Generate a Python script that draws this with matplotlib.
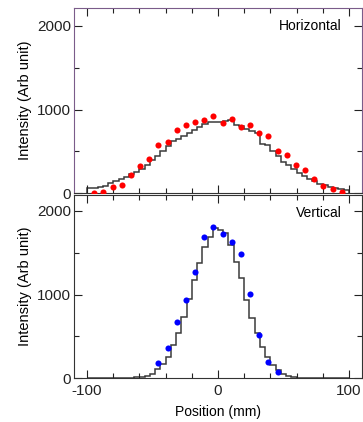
import numpy as np
import matplotlib
matplotlib.use("Agg")
import matplotlib.pyplot as plt
from matplotlib.ticker import MultipleLocator

plt.rcParams['font.family'] = ['Liberation Sans', 'DejaVu Sans']

# ---------------- data ----------------
bin_edges = list(range(-100, 101, 4))

# Horizontal profile: simulated histogram (50 bins of 4 mm)
horiz_hist = [60, 62, 75, 92, 118, 142, 168, 195, 225, 258,
              295, 335, 395, 445, 505, 570, 625, 655, 688, 718,
              755, 795, 828, 850, 848,
              857, 860, 878, 822, 800, 772, 745, 715, 590, 575,
              500, 448, 380, 338, 295, 240, 205, 172, 143, 115,
              95, 77, 63, 52, 43]
horiz_pos = [-94.5, -87.5, -80.5, -73.5, -66.5, -59.5, -52.5, -45.5, -38.5, -31.5,
             -24.5, -17.5, -10.5, -3.5, 3.5, 10.5, 17.5, 24.5, 31.5, 38.5,
             45.5, 52.5, 59.5, 66.5, 73.5, 80.5, 87.5, 94.5]
horiz_meas = [7, 12, 72, 103, 223, 327, 407, 574, 617, 757,
              817, 853, 877, 928, 841, 889, 797, 813, 718, 689,
              506, 462, 339, 283, 175, 87, 51, 12]

# Vertical profile
vert_hist = [1, 1, 1, 1, 1, 2, 3, 5, 8, 12,
             20, 31, 51, 111, 170, 258, 397, 536, 727, 942,
             1173, 1380, 1571, 1690, 1800,
             1770, 1738, 1591, 1392, 1193, 934, 715, 536, 377, 258,
             159, 99, 52, 28, 12, 8, 5, 3, 2, 2,
             1, 1, 1, 1, 1]
vert_pos = [-45.5, -38.5, -31.5, -24.5, -17.5, -10.5, -3.5,
            3.5, 10.5, 17.5, 24.5, 31.5, 38.5, 45.5]
vert_meas = [179, 362, 676, 934, 1272, 1686, 1802,
             1726, 1630, 1480, 1002, 520, 191, 72]

labels = ["Horizontal", "Vertical"]
xticklabels = ["-100", "0", "100"]

# ---------------- figure ----------------
W, H = 363, 422
fig = plt.figure(figsize=(W / 100, H / 100), dpi=100)

def px_axes(x0, y0, x1, y1):
    return fig.add_axes([x0 / W, 1 - y1 / H, (x1 - x0) / W, (y1 - y0) / H])

ax1 = px_axes(74, 8, 362, 193.3)
ax2 = px_axes(74, 195, 362, 378.3)

frame_purple = '#7b5c8a'
step_col = '#3a3a3a'

for ax, hist, pos, meas, col, lab, ytop in [
        (ax1, horiz_hist, horiz_pos, horiz_meas, '#ff0000', labels[0], 2215),
        (ax2, vert_hist, vert_pos, vert_meas, '#0000ff', labels[1], 2190)]:
    ax.stairs(hist, bin_edges, baseline=0, color=step_col, linewidth=1.1)
    ax.plot(pos, meas, 'o', color=col, markersize=4.4, markeredgewidth=0, zorder=3)
    ax.set_xlim(-110, 110)
    ax.set_ylim(0, ytop)
    ax.xaxis.set_major_locator(MultipleLocator(100))
    ax.xaxis.set_minor_locator(MultipleLocator(20))
    ax.yaxis.set_major_locator(MultipleLocator(1000))
    ax.yaxis.set_minor_locator(MultipleLocator(500))
    ax.tick_params(which='both', direction='in', top=True, right=True,
                   labelsize=11, colors='#222222', pad=2)
    ax.tick_params(axis='x', which='both', pad=4)
    ax.tick_params(which='major', length=5.5, width=0.8)
    ax.tick_params(which='minor', length=3.5, width=0.8)
    ax.set_ylabel("Intensity (Arb unit)", fontsize=10.5, labelpad=4)
    ax.text(0.93, 0.905 if ax is ax1 else 0.9, lab, transform=ax.transAxes,
            ha='right', va='center', fontsize=10)

for s in ['left', 'top', 'right']:
    ax1.spines[s].set_color(frame_purple)
ax1.spines['bottom'].set_color('#333333')
for s in ax2.spines.values():
    s.set_color('#333333')

ax1.tick_params(labelbottom=False)
ax2.set_xticks([-100, 0, 100])
ax2.set_xticklabels(xticklabels)
ax2.set_xlabel("Position (mm)", fontsize=10, labelpad=5)

fig.savefig("out.png", dpi=100)
